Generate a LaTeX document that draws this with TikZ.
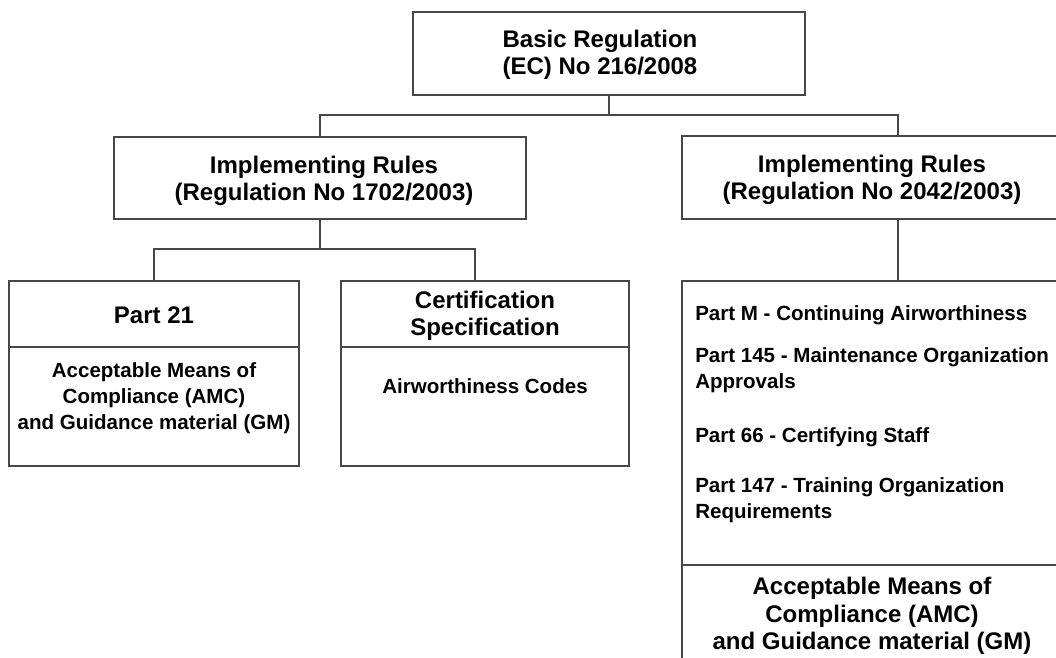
\documentclass[tikz,border=0pt]{standalone}
\usepackage{fontspec}
\setmainfont{Liberation Sans}
\usetikzlibrary{calc}
\begin{document}
\begin{tikzpicture}[x=0.75pt,y=-0.75pt,
  box/.style={draw=black!72, line width=1.3pt, rectangle, inner sep=0pt},
  conn/.style={draw=black!72, line width=1.3pt},
  hdr/.style={font=\bfseries\fontsize{18}{20.5}\selectfont, align=center, inner sep=0pt},
  body/.style={font=\bfseries\fontsize{15.4}{19.5}\selectfont, align=center, inner sep=0pt},
  item/.style={font=\bfseries\fontsize{15.4}{19.5}\selectfont, align=left, anchor=north west, inner sep=0pt},
]
\useasboundingbox (0,0) rectangle (1056,657);
\clip (0,0) rectangle (1056,657);

% boxes
\node[box, minimum width=294pt, minimum height=62.25pt] (basic) at (609,53.5) {};
\node[box, minimum width=309pt, minimum height=61.5pt] (irL) at (320,178) {};
\node[box, minimum width=285pt, minimum height=62.25pt] (irR) at (872,177.5) {};
\node[box, minimum width=217.5pt, minimum height=138.75pt] (p21) at (154,373.5) {};
\node[box, minimum width=216pt, minimum height=138.75pt] (cert) at (485,373.5) {};
\node[box, minimum width=285pt, minimum height=314.25pt] (partsR) at (872,490.5) {};

% dividers
\coordinate (d21) at (0,347);
\coordinate (dR) at (0,565);
\draw[conn] (p21.west |- d21) -- (p21.east |- d21);
\draw[conn] (cert.west |- d21) -- (cert.east |- d21);
\draw[conn] (partsR.west |- dR) -- (partsR.east |- dR);

% texts
\node[hdr] (tBasic) at (600,55) {Basic Regulation\\(EC) No 216/2008};
\node[hdr] (tIrL) at (324,181) {Implementing Rules\\(Regulation No 1702/2003)};
\node[hdr] (tIrR) at (872,180) {Implementing Rules\\(Regulation No 2042/2003)};
\node[hdr] (tP21) at (154,315) {Part 21};
\node[body] (tAmcL) at (154,398) {Acceptable Means of\\Compliance (AMC)\\and Guidance material (GM)};
\node[hdr] (tCert) at (485,316) {Certification\\Specification};
\node[body] (tCodes) at (485,386) {Airworthiness Codes};
\node[item] (tM) at (695,305) {Part M - Continuing Airworthiness};
\node[item] (t145) at (695,347) {Part 145 - Maintenance Organization\\Approvals};
\node[item] (t66) at (695,427) {Part 66 - Certifying Staff};
\node[item] (t147) at (695,477) {Part 147 - Training Organization\\Requirements};
\node[hdr] (tAmcR) at (872,616) {Acceptable Means of\\Compliance (AMC)\\and Guidance material (GM)};

% connectors
\coordinate (bus1) at (609,115);
\coordinate (tapR) at (898,115);
\coordinate (bus2) at (320,249);
\coordinate (tapC) at (475,249);
\draw[conn] (basic.south) -- (bus1);
\draw[conn] (irL.north) |- (tapR) -- (tapR |- irR.north);
\draw[conn] (irL.south) -- (bus2);
\draw[conn] (p21.north) |- (tapC) -- (tapC |- cert.north);
\draw[conn] (tapR |- irR.south) -- (tapR |- partsR.north);
\end{tikzpicture}
\end{document}
